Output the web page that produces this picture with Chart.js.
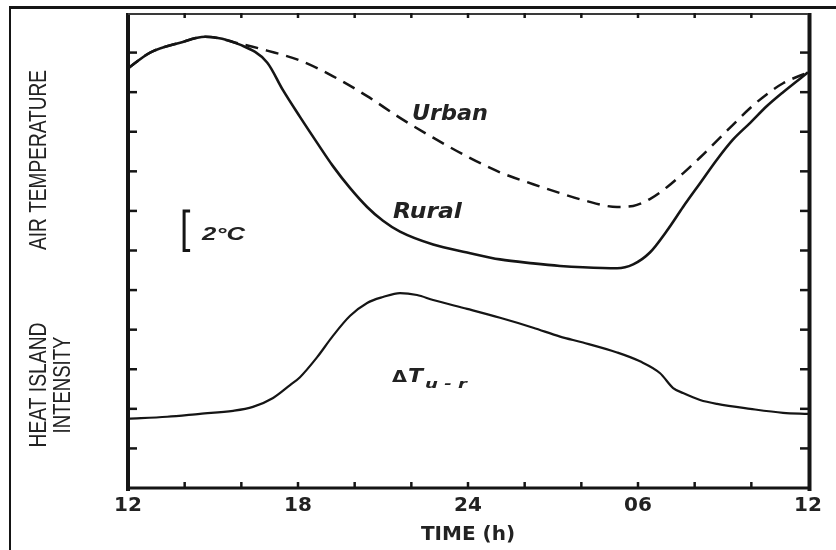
<!DOCTYPE html>
<html lang="en">
<head>
  <meta charset="UTF-8">
  <title>Urban heat island</title>
  <script src="https://cdn.jsdelivr.net/npm/chart.js"></script>
  <style>
    html, body { margin: 0; padding: 0; background: #fff; }
    canvas { display: block; }
  </style>
</head>
<body>
  <canvas id="myChart" width="836" height="550"></canvas>
  <script>
// hours after noon (12h -> next day 12h), temperatures in degC (arbitrary zero)
const ruralHours = [0, 0.78, 1.84, 2.72, 3.95, 4.91, 5.47, 6.07, 6.67, 7.24, 7.84, 8.44, 9.0, 9.6, 10.77, 11.97, 13.13, 14.3, 15.25, 16.06, 17.26, 17.83, 18.42, 19.02, 19.59, 20.19, 20.79, 21.35, 21.96, 22.55, 23.12, 24];
const ruralTemp  = [21.2, 22.0, 22.5, 22.8, 22.4, 21.5, 20.1, 18.75, 17.45, 16.25, 15.15, 14.2, 13.5, 12.95, 12.3, 11.9, 11.55, 11.35, 11.22, 11.15, 11.1, 11.3, 11.9, 13.0, 14.2, 15.4, 16.6, 17.6, 18.45, 19.3, 20.0, 21.0];

const urbanHours = [0, 0.78, 1.84, 2.72, 3.95, 4.91, 6.07, 7.24, 8.44, 9.6, 10.77, 11.97, 13.13, 14.3, 15.25, 16.06, 17.26, 17.83, 18.42, 19.02, 19.59, 20.19, 20.79, 21.35, 21.96, 22.55, 23.12, 24];
const urbanTemp  = [21.2, 22.0, 22.5, 22.8, 22.45, 22.1, 21.6, 20.8, 19.8, 18.7, 17.7, 16.75, 15.95, 15.35, 14.9, 14.55, 14.2, 14.25, 14.6, 15.2, 15.9, 16.7, 17.55, 18.35, 19.2, 19.9, 20.45, 21.0];

const deltaHours = [0, 1.38, 2.54, 3.71, 4.41, 5.12, 5.72, 6.07, 6.67, 7.24, 7.84, 8.44, 9.0, 9.6, 10.2, 10.77, 11.97, 13.13, 14.3, 15.25, 16.06, 17.26, 18.07, 18.78, 19.24, 19.59, 20.19, 20.79, 21.96, 23.12, 24];
const deltaTemp  = [3.5, 3.6, 3.75, 3.9, 4.1, 4.55, 5.2, 5.6, 6.6, 7.7, 8.7, 9.35, 9.65, 9.85, 9.75, 9.5, 9.05, 8.6, 8.1, 7.65, 7.35, 6.85, 6.4, 5.8, 5.05, 4.8, 4.45, 4.25, 4.0, 3.8, 3.75];

// x tick labels (clock time)
const labelHours = [0, 6, 12, 18, 24];
const labelText  = ['12', '18', '24', '06', '12'];

const ink = '#151515';
const textInk = '#222';

const toPoints = (xs, ys) => xs.map((h, i) => ({ x: h, y: ys[i] }));

// text squeezed/stretched to a given width
function fitText(ctx, text, x, y, font, width, align) {
  ctx.save();
  ctx.font = font;
  const w = ctx.measureText(text).width;
  ctx.translate(x, y);
  ctx.scale(width / w, 1);
  ctx.textAlign = align || 'left';
  ctx.fillText(text, 0, 0);
  ctx.restore();
}

function sideTitle(ctx, text, cx, cy, width) {
  ctx.save();
  ctx.translate(cx, cy);
  ctx.rotate(-Math.PI / 2);
  ctx.textBaseline = 'middle';
  fitText(ctx, text, 0, 1, '23px "Liberation Sans Narrow", "Liberation Sans", Arial, sans-serif', width, 'center');
  ctx.restore();
}

const frame = {
  id: 'frame',
  afterDraw(chart) {
    const { ctx, chartArea: { left, right, top, bottom }, scales: { x, y } } = chart;
    ctx.save();
    ctx.strokeStyle = ink;
    ctx.fillStyle = textInk;

    // outer border of the figure
    ctx.lineWidth = 2;
    ctx.beginPath(); ctx.moveTo(10, 6); ctx.lineTo(10, 550); ctx.stroke();
    ctx.lineWidth = 3;
    ctx.beginPath(); ctx.moveTo(9, 7.5); ctx.lineTo(836, 7.5); ctx.stroke();

    // axes box
    ctx.lineWidth = 4;
    ctx.beginPath(); ctx.moveTo(left, top); ctx.lineTo(left, bottom + 3); ctx.stroke();
    ctx.beginPath(); ctx.moveTo(right + 1.5, top); ctx.lineTo(right + 1.5, bottom + 3); ctx.stroke();
    ctx.lineWidth = 3;
    ctx.beginPath(); ctx.moveTo(left, bottom); ctx.lineTo(right + 3, bottom); ctx.stroke();
    ctx.lineWidth = 2;
    ctx.strokeStyle = '#3a3a3a';
    ctx.beginPath(); ctx.moveTo(left, top + 1); ctx.lineTo(right, top + 1); ctx.stroke();

    // inward tick marks
    ctx.strokeStyle = ink;
    ctx.lineWidth = 2.5;
    x.ticks.forEach(t => {
      if (t.value <= x.min || t.value >= x.max) return;
      const px = x.getPixelForValue(t.value);
      ctx.beginPath(); ctx.moveTo(px, bottom); ctx.lineTo(px, bottom - 6); ctx.stroke();
      ctx.beginPath(); ctx.moveTo(px, top); ctx.lineTo(px, top + 5); ctx.stroke();
    });
    y.ticks.forEach(t => {
      if (t.value <= y.min || t.value >= y.max) return;
      const py = y.getPixelForValue(t.value);
      ctx.beginPath(); ctx.moveTo(left, py); ctx.lineTo(left + 9, py); ctx.stroke();
      ctx.beginPath(); ctx.moveTo(right, py); ctx.lineTo(right - 8, py); ctx.stroke();
    });

    // axis titles on the left
    sideTitle(ctx, 'AIR TEMPERATURE', 39, 160, 180);
    sideTitle(ctx, 'HEAT ISLAND', 38.5, 385, 125);
    sideTitle(ctx, 'INTENSITY', 62.5, 385, 97);

    // curve labels
    const bi = size => 'italic bold ' + size + 'px "DejaVu Sans", sans-serif';
    fitText(ctx, 'Urban', x.getPixelForValue(10.02), y.getPixelForValue(18.6), bi(21), 76);
    fitText(ctx, 'Rural', x.getPixelForValue(9.35), y.getPixelForValue(13.64), bi(21), 69);

    // 2 degC scale bar
    const bx = x.getPixelForValue(1.98);
    const b0 = y.getPixelForValue(12), b1 = y.getPixelForValue(14);
    ctx.lineWidth = 3;
    ctx.beginPath();
    ctx.moveTo(bx + 6, b1); ctx.lineTo(bx, b1); ctx.lineTo(bx, b0); ctx.lineTo(bx + 6, b0);
    ctx.stroke();
    fitText(ctx, '2°C', x.getPixelForValue(2.61), y.getPixelForValue(12.53), 'italic bold 18px "Liberation Sans", Arial, sans-serif', 43);

    // delta T label
    const dx = x.getPixelForValue(9.32), dy = y.getPixelForValue(5.36);
    fitText(ctx, 'Δ', dx, dy, 'bold 15px "DejaVu Sans", sans-serif', 15);
    fitText(ctx, 'T', dx + 16, dy, bi(19), 15);
    fitText(ctx, 'u - r', dx + 33, dy + 6, bi(13), 42);

    ctx.restore();
  }
};

const ctx = document.getElementById('myChart').getContext('2d');
new Chart(ctx, {
  type: 'line',
  data: {
    datasets: [
      {
        label: 'Urban',
        data: toPoints(urbanHours, urbanTemp),
        borderColor: ink,
        borderWidth: 2.5,
        borderDash: [13, 8],
        pointRadius: 0,
        cubicInterpolationMode: 'monotone',
        fill: false
      },
      {
        label: 'Rural',
        data: toPoints(ruralHours, ruralTemp),
        borderColor: ink,
        borderWidth: 2.6,
        pointRadius: 0,
        cubicInterpolationMode: 'monotone',
        fill: false
      },
      {
        label: 'Heat island intensity',
        data: toPoints(deltaHours, deltaTemp),
        borderColor: ink,
        borderWidth: 2.2,
        pointRadius: 0,
        cubicInterpolationMode: 'monotone',
        fill: false
      }
    ]
  },
  options: {
    responsive: false,
    animation: false,
    layout: { padding: { left: 128, right: 28, top: 13, bottom: 0 } },
    plugins: {
      legend: { display: false },
      tooltip: { enabled: false }
    },
    scales: {
      x: {
        type: 'linear',
        min: 0,
        max: 24,
        grid: { display: false, drawTicks: false },
        border: { display: false },
        ticks: {
          stepSize: 2,
          autoSkip: false,
          maxRotation: 0,
          padding: 6,
          color: textInk,
          font: { family: '"DejaVu Sans", sans-serif', size: 20, weight: 'bold' },
          callback: v => {
            const i = labelHours.indexOf(v);
            return i < 0 ? '' : labelText[i];
          }
        },
        title: {
          display: true,
          text: 'TIME (h)',
          color: textInk,
          font: { family: '"DejaVu Sans", sans-serif', size: 20, weight: 'bold' },
          padding: { top: 0, bottom: 3 }
        },
        afterFit: s => { s.height = 62; }
      },
      y: {
        min: 0,
        max: 24,
        grid: { display: false, drawTicks: false },
        border: { display: false },
        ticks: { display: false, stepSize: 2 },
        afterFit: s => { s.width = 0; }
      }
    }
  },
  plugins: [frame]
});
  </script>
</body>
</html>
